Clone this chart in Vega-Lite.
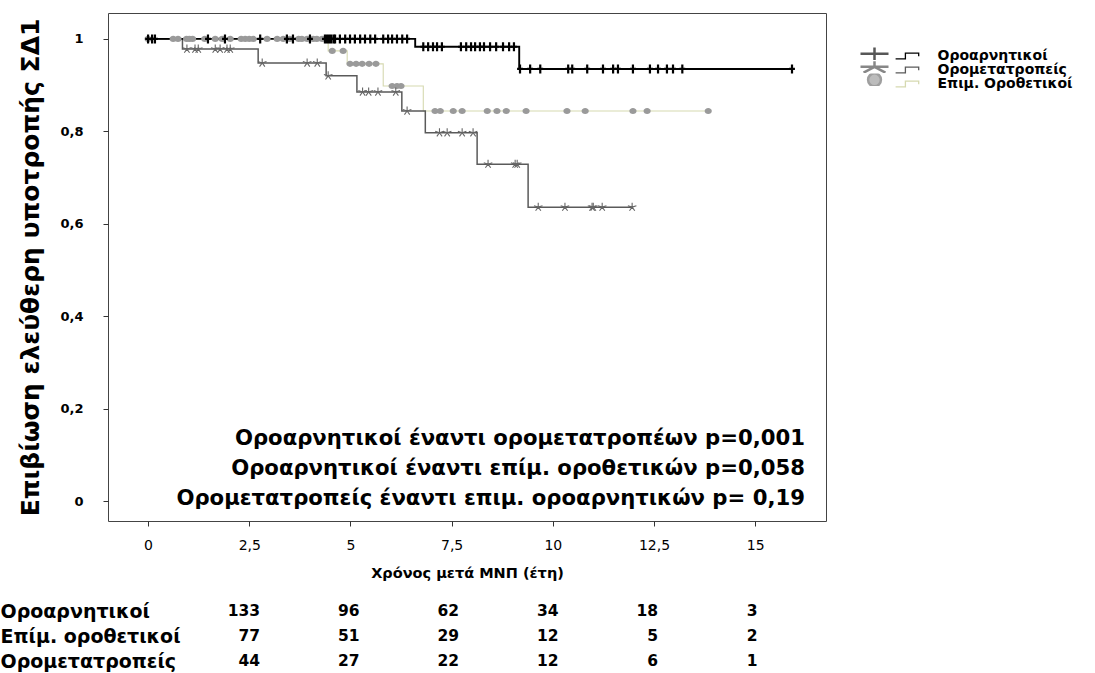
{
  "$schema": "https://vega.github.io/schema/vega-lite/v6.json",
  "background": "white",
  "padding": {"left": 0, "top": 12, "right": 10, "bottom": 0},
  "bounds": "flush",
  "spacing": 77.5,
  "config": {
    "font": "DejaVu Sans",
    "view": {"stroke": null},
    "axis": {"grid": false, "domain": false, "labelColor": "#000", "titleColor": "#000", "tickColor": "#333"}
  },
  "datasets": {
    "steps": [
      {"group": "Επιμ. Οροθετικοί", "t": 0, "s": 1},
      {"group": "Επιμ. Οροθετικοί", "t": 4.45, "s": 0.974},
      {"group": "Επιμ. Οροθετικοί", "t": 4.92, "s": 0.946},
      {"group": "Επιμ. Οροθετικοί", "t": 5.81, "s": 0.898},
      {"group": "Επιμ. Οροθετικοί", "t": 6.8, "s": 0.844},
      {"group": "Επιμ. Οροθετικοί", "t": 13.84, "s": 0.844},
      {"group": "Ορομετατροπείς", "t": 0, "s": 1},
      {"group": "Ορομετατροπείς", "t": 0.85, "s": 0.978},
      {"group": "Ορομετατροπείς", "t": 2.72, "s": 0.948},
      {"group": "Ορομετατροπείς", "t": 4.4, "s": 0.92},
      {"group": "Ορομετατροπείς", "t": 5.16, "s": 0.885},
      {"group": "Ορομετατροπείς", "t": 6.27, "s": 0.844},
      {"group": "Ορομετατροπείς", "t": 6.85, "s": 0.797},
      {"group": "Ορομετατροπείς", "t": 8.13, "s": 0.729},
      {"group": "Ορομετατροπείς", "t": 9.39, "s": 0.636},
      {"group": "Ορομετατροπείς", "t": 11.96, "s": 0.636},
      {"group": "Οροαρνητικοί", "t": 0, "s": 1},
      {"group": "Οροαρνητικοί", "t": 6.6, "s": 0.983},
      {"group": "Οροαρνητικοί", "t": 9.17, "s": 0.935},
      {"group": "Οροαρνητικοί", "t": 15.91, "s": 0.935}
    ],
    "censored": [
      {"group": "Επιμ. Οροθετικοί", "t": 0.0, "s": 1},
      {"group": "Επιμ. Οροθετικοί", "t": 0.62, "s": 1},
      {"group": "Επιμ. Οροθετικοί", "t": 0.74, "s": 1},
      {"group": "Επιμ. Οροθετικοί", "t": 0.95, "s": 1},
      {"group": "Επιμ. Οροθετικοί", "t": 1.02, "s": 1},
      {"group": "Επιμ. Οροθετικοί", "t": 1.1, "s": 1},
      {"group": "Επιμ. Οροθετικοί", "t": 1.4, "s": 1},
      {"group": "Επιμ. Οροθετικοί", "t": 1.66, "s": 1},
      {"group": "Επιμ. Οροθετικοί", "t": 1.83, "s": 1},
      {"group": "Επιμ. Οροθετικοί", "t": 2.03, "s": 1},
      {"group": "Επιμ. Οροθετικοί", "t": 2.3, "s": 1},
      {"group": "Επιμ. Οροθετικοί", "t": 2.4, "s": 1},
      {"group": "Επιμ. Οροθετικοί", "t": 2.5, "s": 1},
      {"group": "Επιμ. Οροθετικοί", "t": 2.6, "s": 1},
      {"group": "Επιμ. Οροθετικοί", "t": 2.94, "s": 1},
      {"group": "Επιμ. Οροθετικοί", "t": 3.19, "s": 1},
      {"group": "Επιμ. Οροθετικοί", "t": 3.34, "s": 1},
      {"group": "Επιμ. Οροθετικοί", "t": 3.5, "s": 1},
      {"group": "Επιμ. Οροθετικοί", "t": 3.72, "s": 1},
      {"group": "Επιμ. Οροθετικοί", "t": 3.8, "s": 1},
      {"group": "Επιμ. Οροθετικοί", "t": 3.93, "s": 1},
      {"group": "Επιμ. Οροθετικοί", "t": 4.08, "s": 1},
      {"group": "Επιμ. Οροθετικοί", "t": 4.17, "s": 1},
      {"group": "Επιμ. Οροθετικοί", "t": 4.3, "s": 1},
      {"group": "Επιμ. Οροθετικοί", "t": 4.55, "s": 0.974},
      {"group": "Επιμ. Οροθετικοί", "t": 4.82, "s": 0.974},
      {"group": "Επιμ. Οροθετικοί", "t": 4.99, "s": 0.946},
      {"group": "Επιμ. Οροθετικοί", "t": 5.14, "s": 0.946},
      {"group": "Επιμ. Οροθετικοί", "t": 5.29, "s": 0.946},
      {"group": "Επιμ. Οροθετικοί", "t": 5.46, "s": 0.946},
      {"group": "Επιμ. Οροθετικοί", "t": 5.63, "s": 0.946},
      {"group": "Επιμ. Οροθετικοί", "t": 6.03, "s": 0.898},
      {"group": "Επιμ. Οροθετικοί", "t": 6.15, "s": 0.898},
      {"group": "Επιμ. Οροθετικοί", "t": 6.25, "s": 0.898},
      {"group": "Επιμ. Οροθετικοί", "t": 7.09, "s": 0.844},
      {"group": "Επιμ. Οροθετικοί", "t": 7.22, "s": 0.844},
      {"group": "Επιμ. Οροθετικοί", "t": 7.54, "s": 0.844},
      {"group": "Επιμ. Οροθετικοί", "t": 7.76, "s": 0.844},
      {"group": "Επιμ. Οροθετικοί", "t": 8.38, "s": 0.844},
      {"group": "Επιμ. Οροθετικοί", "t": 8.62, "s": 0.844},
      {"group": "Επιμ. Οροθετικοί", "t": 8.85, "s": 0.844},
      {"group": "Επιμ. Οροθετικοί", "t": 9.34, "s": 0.844},
      {"group": "Επιμ. Οροθετικοί", "t": 10.35, "s": 0.844},
      {"group": "Επιμ. Οροθετικοί", "t": 10.8, "s": 0.844},
      {"group": "Επιμ. Οροθετικοί", "t": 11.98, "s": 0.844},
      {"group": "Επιμ. Οροθετικοί", "t": 12.33, "s": 0.844},
      {"group": "Επιμ. Οροθετικοί", "t": 13.84, "s": 0.844},
      {"group": "Ορομετατροπείς", "t": 0.96, "s": 0.978},
      {"group": "Ορομετατροπείς", "t": 1.16, "s": 0.978},
      {"group": "Ορομετατροπείς", "t": 1.24, "s": 0.978},
      {"group": "Ορομετατροπείς", "t": 1.66, "s": 0.978},
      {"group": "Ορομετατροπείς", "t": 1.78, "s": 0.978},
      {"group": "Ορομετατροπείς", "t": 1.95, "s": 0.978},
      {"group": "Ορομετατροπείς", "t": 2.03, "s": 0.978},
      {"group": "Ορομετατροπείς", "t": 2.82, "s": 0.948},
      {"group": "Ορομετατροπείς", "t": 3.93, "s": 0.948},
      {"group": "Ορομετατροπείς", "t": 4.18, "s": 0.948},
      {"group": "Ορομετατροπείς", "t": 4.45, "s": 0.92},
      {"group": "Ορομετατροπείς", "t": 5.3, "s": 0.885},
      {"group": "Ορομετατροπείς", "t": 5.45, "s": 0.885},
      {"group": "Ορομετατροπείς", "t": 5.68, "s": 0.885},
      {"group": "Ορομετατροπείς", "t": 6.12, "s": 0.885},
      {"group": "Ορομετατροπείς", "t": 6.4, "s": 0.844},
      {"group": "Ορομετατροπείς", "t": 7.2, "s": 0.797},
      {"group": "Ορομετατροπείς", "t": 7.39, "s": 0.797},
      {"group": "Ορομετατροπείς", "t": 7.76, "s": 0.797},
      {"group": "Ορομετατροπείς", "t": 8.03, "s": 0.797},
      {"group": "Ορομετατροπείς", "t": 8.4, "s": 0.729},
      {"group": "Ορομετατροπείς", "t": 9.07, "s": 0.729},
      {"group": "Ορομετατροπείς", "t": 9.12, "s": 0.729},
      {"group": "Ορομετατροπείς", "t": 9.64, "s": 0.636},
      {"group": "Ορομετατροπείς", "t": 10.3, "s": 0.636},
      {"group": "Ορομετατροπείς", "t": 10.97, "s": 0.636},
      {"group": "Ορομετατροπείς", "t": 11.0, "s": 0.636},
      {"group": "Ορομετατροπείς", "t": 11.22, "s": 0.636},
      {"group": "Ορομετατροπείς", "t": 11.96, "s": 0.636},
      {"group": "Οροαρνητικοί", "t": 0.0, "s": 1},
      {"group": "Οροαρνητικοί", "t": 0.1, "s": 1},
      {"group": "Οροαρνητικοί", "t": 0.17, "s": 1},
      {"group": "Οροαρνητικοί", "t": 1.48, "s": 1},
      {"group": "Οροαρνητικοί", "t": 1.9, "s": 1},
      {"group": "Οροαρνητικοί", "t": 2.77, "s": 1},
      {"group": "Οροαρνητικοί", "t": 3.43, "s": 1},
      {"group": "Οροαρνητικοί", "t": 3.58, "s": 1},
      {"group": "Οροαρνητικοί", "t": 4.0, "s": 1},
      {"group": "Οροαρνητικοί", "t": 4.37, "s": 1},
      {"group": "Οροαρνητικοί", "t": 4.42, "s": 1},
      {"group": "Οροαρνητικοί", "t": 4.47, "s": 1},
      {"group": "Οροαρνητικοί", "t": 4.52, "s": 1},
      {"group": "Οροαρνητικοί", "t": 4.58, "s": 1},
      {"group": "Οροαρνητικοί", "t": 4.62, "s": 1},
      {"group": "Οροαρνητικοί", "t": 4.74, "s": 1},
      {"group": "Οροαρνητικοί", "t": 4.87, "s": 1},
      {"group": "Οροαρνητικοί", "t": 4.99, "s": 1},
      {"group": "Οροαρνητικοί", "t": 5.11, "s": 1},
      {"group": "Οροαρνητικοί", "t": 5.24, "s": 1},
      {"group": "Οροαρνητικοί", "t": 5.36, "s": 1},
      {"group": "Οροαρνητικοί", "t": 5.49, "s": 1},
      {"group": "Οροαρνητικοί", "t": 5.61, "s": 1},
      {"group": "Οροαρνητικοί", "t": 5.81, "s": 1},
      {"group": "Οροαρνητικοί", "t": 5.93, "s": 1},
      {"group": "Οροαρνητικοί", "t": 6.03, "s": 1},
      {"group": "Οροαρνητικοί", "t": 6.15, "s": 1},
      {"group": "Οροαρνητικοί", "t": 6.28, "s": 1},
      {"group": "Οροαρνητικοί", "t": 6.4, "s": 1},
      {"group": "Οροαρνητικοί", "t": 6.8, "s": 0.983},
      {"group": "Οροαρνητικοί", "t": 6.92, "s": 0.983},
      {"group": "Οροαρνητικοί", "t": 7.04, "s": 0.983},
      {"group": "Οροαρνητικοί", "t": 7.14, "s": 0.983},
      {"group": "Οροαρνητικοί", "t": 7.26, "s": 0.983},
      {"group": "Οροαρνητικοί", "t": 7.73, "s": 0.983},
      {"group": "Οροαρνητικοί", "t": 7.86, "s": 0.983},
      {"group": "Οροαρνητικοί", "t": 7.98, "s": 0.983},
      {"group": "Οροαρνητικοί", "t": 8.08, "s": 0.983},
      {"group": "Οροαρνητικοί", "t": 8.2, "s": 0.983},
      {"group": "Οροαρνητικοί", "t": 8.3, "s": 0.983},
      {"group": "Οροαρνητικοί", "t": 8.45, "s": 0.983},
      {"group": "Οροαρνητικοί", "t": 8.6, "s": 0.983},
      {"group": "Οροαρνητικοί", "t": 8.77, "s": 0.983},
      {"group": "Οροαρνητικοί", "t": 8.92, "s": 0.983},
      {"group": "Οροαρνητικοί", "t": 9.04, "s": 0.983},
      {"group": "Οροαρνητικοί", "t": 9.19, "s": 0.935},
      {"group": "Οροαρνητικοί", "t": 9.44, "s": 0.935},
      {"group": "Οροαρνητικοί", "t": 9.69, "s": 0.935},
      {"group": "Οροαρνητικοί", "t": 10.38, "s": 0.935},
      {"group": "Οροαρνητικοί", "t": 10.48, "s": 0.935},
      {"group": "Οροαρνητικοί", "t": 10.85, "s": 0.935},
      {"group": "Οροαρνητικοί", "t": 11.24, "s": 0.935},
      {"group": "Οροαρνητικοί", "t": 11.49, "s": 0.935},
      {"group": "Οροαρνητικοί", "t": 11.61, "s": 0.935},
      {"group": "Οροαρνητικοί", "t": 11.98, "s": 0.935},
      {"group": "Οροαρνητικοί", "t": 12.4, "s": 0.935},
      {"group": "Οροαρνητικοί", "t": 12.6, "s": 0.935},
      {"group": "Οροαρνητικοί", "t": 12.82, "s": 0.935},
      {"group": "Οροαρνητικοί", "t": 12.97, "s": 0.935},
      {"group": "Οροαρνητικοί", "t": 13.2, "s": 0.935},
      {"group": "Οροαρνητικοί", "t": 15.91, "s": 0.935}
    ],
    "legendkeys": [
      {"group": "Οροαρνητικοί"},
      {"group": "Ορομετατροπείς"},
      {"group": "Επιμ. Οροθετικοί"}
    ],
    "notes": [
      {"label": "Οροαρνητικοί έναντι ορομετατροπέων p=0,001\nΟροαρνητικοί έναντι επίμ. οροθετικών p=0,058\nΟρομετατροπείς έναντι επιμ. οροαρνητικών p= 0,19"}
    ],
    "atrisk": [
      {"row": "Οροαρνητικοί", "time": 0, "n": 133},
      {"row": "Οροαρνητικοί", "time": 2.5, "n": 96},
      {"row": "Οροαρνητικοί", "time": 5, "n": 62},
      {"row": "Οροαρνητικοί", "time": 7.5, "n": 34},
      {"row": "Οροαρνητικοί", "time": 10, "n": 18},
      {"row": "Οροαρνητικοί", "time": 12.5, "n": 3},
      {"row": "Επίμ. οροθετικοί", "time": 0, "n": 77},
      {"row": "Επίμ. οροθετικοί", "time": 2.5, "n": 51},
      {"row": "Επίμ. οροθετικοί", "time": 5, "n": 29},
      {"row": "Επίμ. οροθετικοί", "time": 7.5, "n": 12},
      {"row": "Επίμ. οροθετικοί", "time": 10, "n": 5},
      {"row": "Επίμ. οροθετικοί", "time": 12.5, "n": 2},
      {"row": "Ορομετατροπείς", "time": 0, "n": 44},
      {"row": "Ορομετατροπείς", "time": 2.5, "n": 27},
      {"row": "Ορομετατροπείς", "time": 5, "n": 22},
      {"row": "Ορομετατροπείς", "time": 7.5, "n": 12},
      {"row": "Ορομετατροπείς", "time": 10, "n": 6},
      {"row": "Ορομετατροπείς", "time": 12.5, "n": 1}
    ]
  },
  "vconcat": [
    {
      "width": 718,
      "height": 508,
      "view": {"stroke": "#444", "strokeWidth": 1},
      "resolve": {"scale": {"shape": "independent", "stroke": "independent", "fill": "independent", "strokeWidth": "independent"}},
      "layer": [
        {
          "data": {"name": "steps"},
          "mark": {"type": "line", "interpolate": "step-after"},
          "encoding": {
            "x": {
              "field": "t", "type": "quantitative",
              "scale": {"domain": [-0.99, 16.75], "nice": false, "zero": false},
              "axis": {
                "values": [0, 2.5, 5, 7.5, 10, 12.5, 15],
                "labelExpr": "replace(format(datum.value, '~g'), '.', ',')",
                "labelFontSize": 14, "labelFontWeight": "normal",
                "tickSize": 5, "labelPadding": 12,
                "title": "Χρόνος μετά ΜΝΠ (έτη)", "titleFontSize": 14.5, "titleFontWeight": "bold", "titlePadding": 14
              }
            },
            "y": {
              "field": "s", "type": "quantitative",
              "scale": {"domain": [-0.043, 1.056], "nice": false, "zero": false},
              "axis": {
                "values": [0, 0.2, 0.4, 0.6, 0.8, 1],
                "labelExpr": "replace(format(datum.value, '~g'), '.', ',')",
                "labelFontSize": 13, "labelFontWeight": "bold",
                "tickSize": 5, "labelPadding": 20,
                "title": "Επιβίωση ελεύθερη υποτροπής ΣΔ1", "titleFontSize": 25, "titleFontWeight": "bold", "titlePadding": 16
              }
            },
            "color": {
              "field": "group", "type": "nominal",
              "scale": {"domain": ["Οροαρνητικοί", "Ορομετατροπείς", "Επιμ. Οροθετικοί"], "range": ["#000000", "#5a5a5a", "#d6d9b0"]},
              "legend": {
                "orient": "none", "legendX": 792.5, "legendY": 36, "title": null, "padding": 0,
                "symbolType": "M-3.4,0.8L-0.6,0.8L-0.6,-0.85L3.2,-0.85L3.2,0.1",
                "symbolSize": 49, "symbolStrokeWidth": 1.3, "symbolFillColor": "transparent",
                "labelFontSize": 14, "labelFontWeight": "bold", "labelColor": "#000", "labelOffset": 23, "rowPadding": -1.5
              }
            },
            "strokeWidth": {
              "field": "group", "type": "nominal", "legend": null,
              "scale": {"domain": ["Οροαρνητικοί", "Ορομετατροπείς", "Επιμ. Οροθετικοί"], "range": [1.9, 1.1]}
            }
          }
        },
        {
          "data": {"name": "censored"},
          "mark": {"type": "point", "filled": false, "size": 81, "opacity": 1},
          "encoding": {
            "x": {"field": "t", "type": "quantitative"},
            "y": {"field": "s", "type": "quantitative"},
            "shape": {
              "field": "group", "type": "nominal", "legend": null,
              "scale": {
                "domain": ["Οροαρνητικοί", "Ορομετατροπείς", "Επιμ. Οροθετικοί"],
                "range": [
                  "M-0.65,0L0.65,0M0,-1L0,1",
                  "M0,0L0,-1M0,0L0.95,-0.31M0,0L0.59,0.81M0,0L-0.59,0.81M0,0L-0.95,-0.31",
                  "M-0.8,0A0.8,0.68,0,1,0,0.8,0A0.8,0.68,0,1,0,-0.8,0Z"
                ]
              }
            },
            "stroke": {
              "field": "group", "type": "nominal", "legend": null,
              "scale": {"domain": ["Οροαρνητικοί", "Ορομετατροπείς", "Επιμ. Οροθετικοί"], "range": ["#000000", "#666666", "#9a9a9a"]}
            },
            "fill": {
              "field": "group", "type": "nominal", "legend": null,
              "scale": {"domain": ["Οροαρνητικοί", "Ορομετατροπείς", "Επιμ. Οροθετικοί"], "range": ["transparent", "transparent", "#9a9a9a"]}
            },
            "strokeWidth": {
              "field": "group", "type": "nominal", "legend": null,
              "scale": {"domain": ["Οροαρνητικοί", "Ορομετατροπείς", "Επιμ. Οροθετικοί"], "range": [2.2, 0]}
            }
          }
        },
        {
          "data": {"name": "legendkeys"},
          "mark": {"type": "point", "filled": false, "strokeWidth": 2.5},
          "encoding": {
            "x": {"field": "t", "type": "quantitative"},
            "y": {"field": "s", "type": "quantitative"},
            "shape": {
              "field": "group", "type": "nominal",
              "scale": {
                "domain": ["Οροαρνητικοί", "Ορομετατροπείς", "Επιμ. Οροθετικοί"],
                "range": [
                  "M-1,0L1,0M0,-0.5L0,0.5",
                  "M-1,0L1,0M0,0L0,-0.4M0,0L-0.78,0.42M0,0L0.78,0.42",
                  "M-0.46,0A0.46,0.46,0,1,0,0.46,0A0.46,0.46,0,1,0,-0.46,0Z"
                ]
              },
              "legend": {"orient": "none", "legendX": 751, "legendY": 34.5, "title": null, "padding": 0, "labelExpr": "''", "symbolSize": 784, "symbolStrokeWidth": 2.5, "labelFontSize": 12, "rowPadding": 0, "clipHeight": 12.6}
            },
            "stroke": {
              "field": "group", "type": "nominal",
              "scale": {"domain": ["Οροαρνητικοί", "Ορομετατροπείς", "Επιμ. Οροθετικοί"], "range": ["#111111", "#555555", "#777777"]},
              "legend": {"orient": "none", "legendX": 751, "legendY": 34.5, "title": null, "padding": 0, "labelExpr": "''", "symbolSize": 784, "symbolStrokeWidth": 2.5, "labelFontSize": 12, "rowPadding": 0, "clipHeight": 12.6}
            },
            "fill": {
              "field": "group", "type": "nominal",
              "scale": {"domain": ["Οροαρνητικοί", "Ορομετατροπείς", "Επιμ. Οροθετικοί"], "range": ["transparent", "transparent", "#777777"]},
              "legend": {"orient": "none", "legendX": 751, "legendY": 34.5, "title": null, "padding": 0, "labelExpr": "''", "symbolSize": 784, "symbolStrokeWidth": 2.5, "labelFontSize": 12, "rowPadding": 0, "clipHeight": 12.6}
            }
          }
        },
        {
          "data": {"name": "notes"},
          "mark": {"type": "text", "align": "right", "baseline": "alphabetic", "fontSize": 21.2, "fontWeight": "bold", "lineBreak": "\n", "lineHeight": 30, "color": "#000"},
          "encoding": {
            "x": {"datum": 16.23, "type": "quantitative"},
            "y": {"datum": 0.121, "type": "quantitative"},
            "text": {"field": "label"}
          }
        }
      ]
    },
    {
      "width": 718,
      "height": 75,
      "data": {"name": "atrisk"},
      "mark": {"type": "text", "align": "right", "baseline": "middle", "fontSize": 15.5, "fontWeight": "bold", "color": "#000"},
      "encoding": {
        "x": {"field": "time", "type": "quantitative", "scale": {"domain": [-3.82, 14.22], "nice": false, "zero": false}, "axis": null},
        "y": {
          "field": "row", "type": "nominal",
          "sort": ["Οροαρνητικοί", "Επίμ. οροθετικοί", "Ορομετατροπείς"],
          "axis": {"title": null, "ticks": false, "tickSize": 0, "domain": false, "labelAlign": "left", "labelPadding": 108, "labelLimit": 300, "labelFontSize": 19, "labelFontWeight": "bold", "labelColor": "#000", "labelBaseline": "middle"}
        },
        "text": {"field": "n"}
      }
    }
  ]
}
